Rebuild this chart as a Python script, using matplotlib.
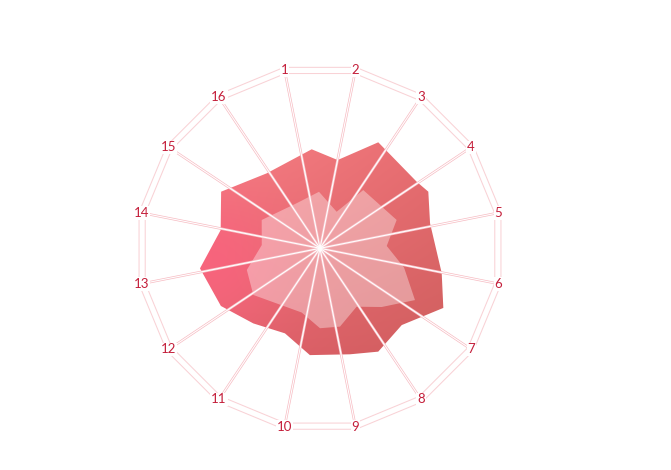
import numpy as np
import matplotlib.pyplot as plt
from matplotlib.patches import Polygon

# axis labels (16 spokes)
labels = [str(i) for i in range(1, 17)]

# outer area: vertex angle (deg, clockwise from north) and value (frame = 100)
outer_ang = [355.2, 11.3, 28.8, 55.4, 62.4, 77.2, 101.5, 115.8, 133.2, 150.6,
             164.2, 185.4, 202.4, 221.6, 239.8, 260.5, 280.4, 299.8, 324.6]
outer_val = [55.2, 50.0, 67.2, 65.2, 67.9, 62.7, 69.0, 76.1, 62.3, 65.9,
             61.2, 59.6, 51.1, 55.8, 63.7, 67.6, 56.1, 63.3, 51.1]

# inner area
inner_ang = [295.9, 332.6, 359.0, 24.5, 36.6, 69.7, 88.0, 102.9, 118.6, 133.6,
             147.9, 165.7, 180.0, 195.9, 235.0, 253.5, 273.2]
inner_val = [36.0, 28.2, 31.4, 22.3, 40.3, 45.4, 37.1, 47.9, 60.1, 47.3,
             38.3, 44.9, 44.4, 37.1, 45.2, 42.4, 32.4]

label_color = '#c41e3a'
frame_color = '#f9d2d6'


def to_xy(ang, val):
    a = np.radians(np.asarray(ang))
    v = np.asarray(val)
    return np.column_stack([v * np.sin(a), v * np.cos(a)])


fig = plt.figure(figsize=(6.71, 4.70), dpi=100)
ax = fig.add_axes([0, 0, 1, 1])
ax.set_xlim(-320 / 1.8, 351 / 1.8)
ax.set_ylim(-(470 - 248.3) / 1.8, 248.3 / 1.8)
ax.axis('off')

# spoke angles
n = len(labels)
spoke_ang = -11.25 + 22.5 * np.arange(n)

# frame (double 16-gon)
for r in (99.0, 102.5):
    pts = to_xy(spoke_ang, [r] * n)
    ax.add_patch(Polygon(pts, closed=True, fill=False, ec=frame_color, lw=0.75, zorder=1))

# outer area with gradient fill
opoly = Polygon(to_xy(outer_ang, outer_val), closed=True, fc='none', ec='none', zorder=2)
ax.add_patch(opoly)
nx, ny = 200, 200
xs = np.linspace(-80, 80, nx)
ys = np.linspace(-70, 70, ny)
u = ((xs + 80) / 160)[None, :, None]
v = ((ys + 70) / 140)[:, None, None]  # 0 = bottom
tl = np.array([252, 135, 140]) / 255
bl = np.array([226, 92, 106]) / 255
tr = np.array([232, 108, 112]) / 255
br = np.array([204, 94, 92]) / 255
img = (1 - u) * (v * tl + (1 - v) * bl) + u * (v * tr + (1 - v) * br)
# hot pink glow on the left
gx, gy = np.meshgrid(xs, ys)
w = np.exp(-((gx + 62) ** 2 + (gy + 8) ** 2) / (2 * 28 ** 2))[:, :, None]
pink = np.array([250, 98, 126]) / 255
img = img * (1 - 0.8 * w) + pink * 0.8 * w
im = ax.imshow(img, extent=(-80, 80, -70, 70), origin='lower', aspect='auto',
               interpolation='bilinear', zorder=2)
im.set_clip_path(opoly)

# inner area
ax.add_patch(Polygon(to_xy(inner_ang, inner_val), closed=True, fc='white',
                     alpha=0.36, ec='none', zorder=3))

# spokes
for a in spoke_ang:
    p = to_xy([a, a], [0, 99])
    ax.plot(p[:, 0], p[:, 1], color='#f7bcc3', lw=1.8, zorder=4, solid_capstyle='butt')
    ax.plot(p[:, 0], p[:, 1], color='white', lw=0.8, zorder=5, solid_capstyle='butt')

# labels
lp = to_xy(spoke_ang, [101] * n)
for (x, y), t in zip(lp, labels):
    ax.text(x, y, t, ha='center', va='center', fontsize=9.5, color=label_color,
            family=['Lato', 'DejaVu Sans'], zorder=6,
            bbox=dict(fc='white', ec='none', pad=0.6))

fig.savefig('out.png', dpi=100)
